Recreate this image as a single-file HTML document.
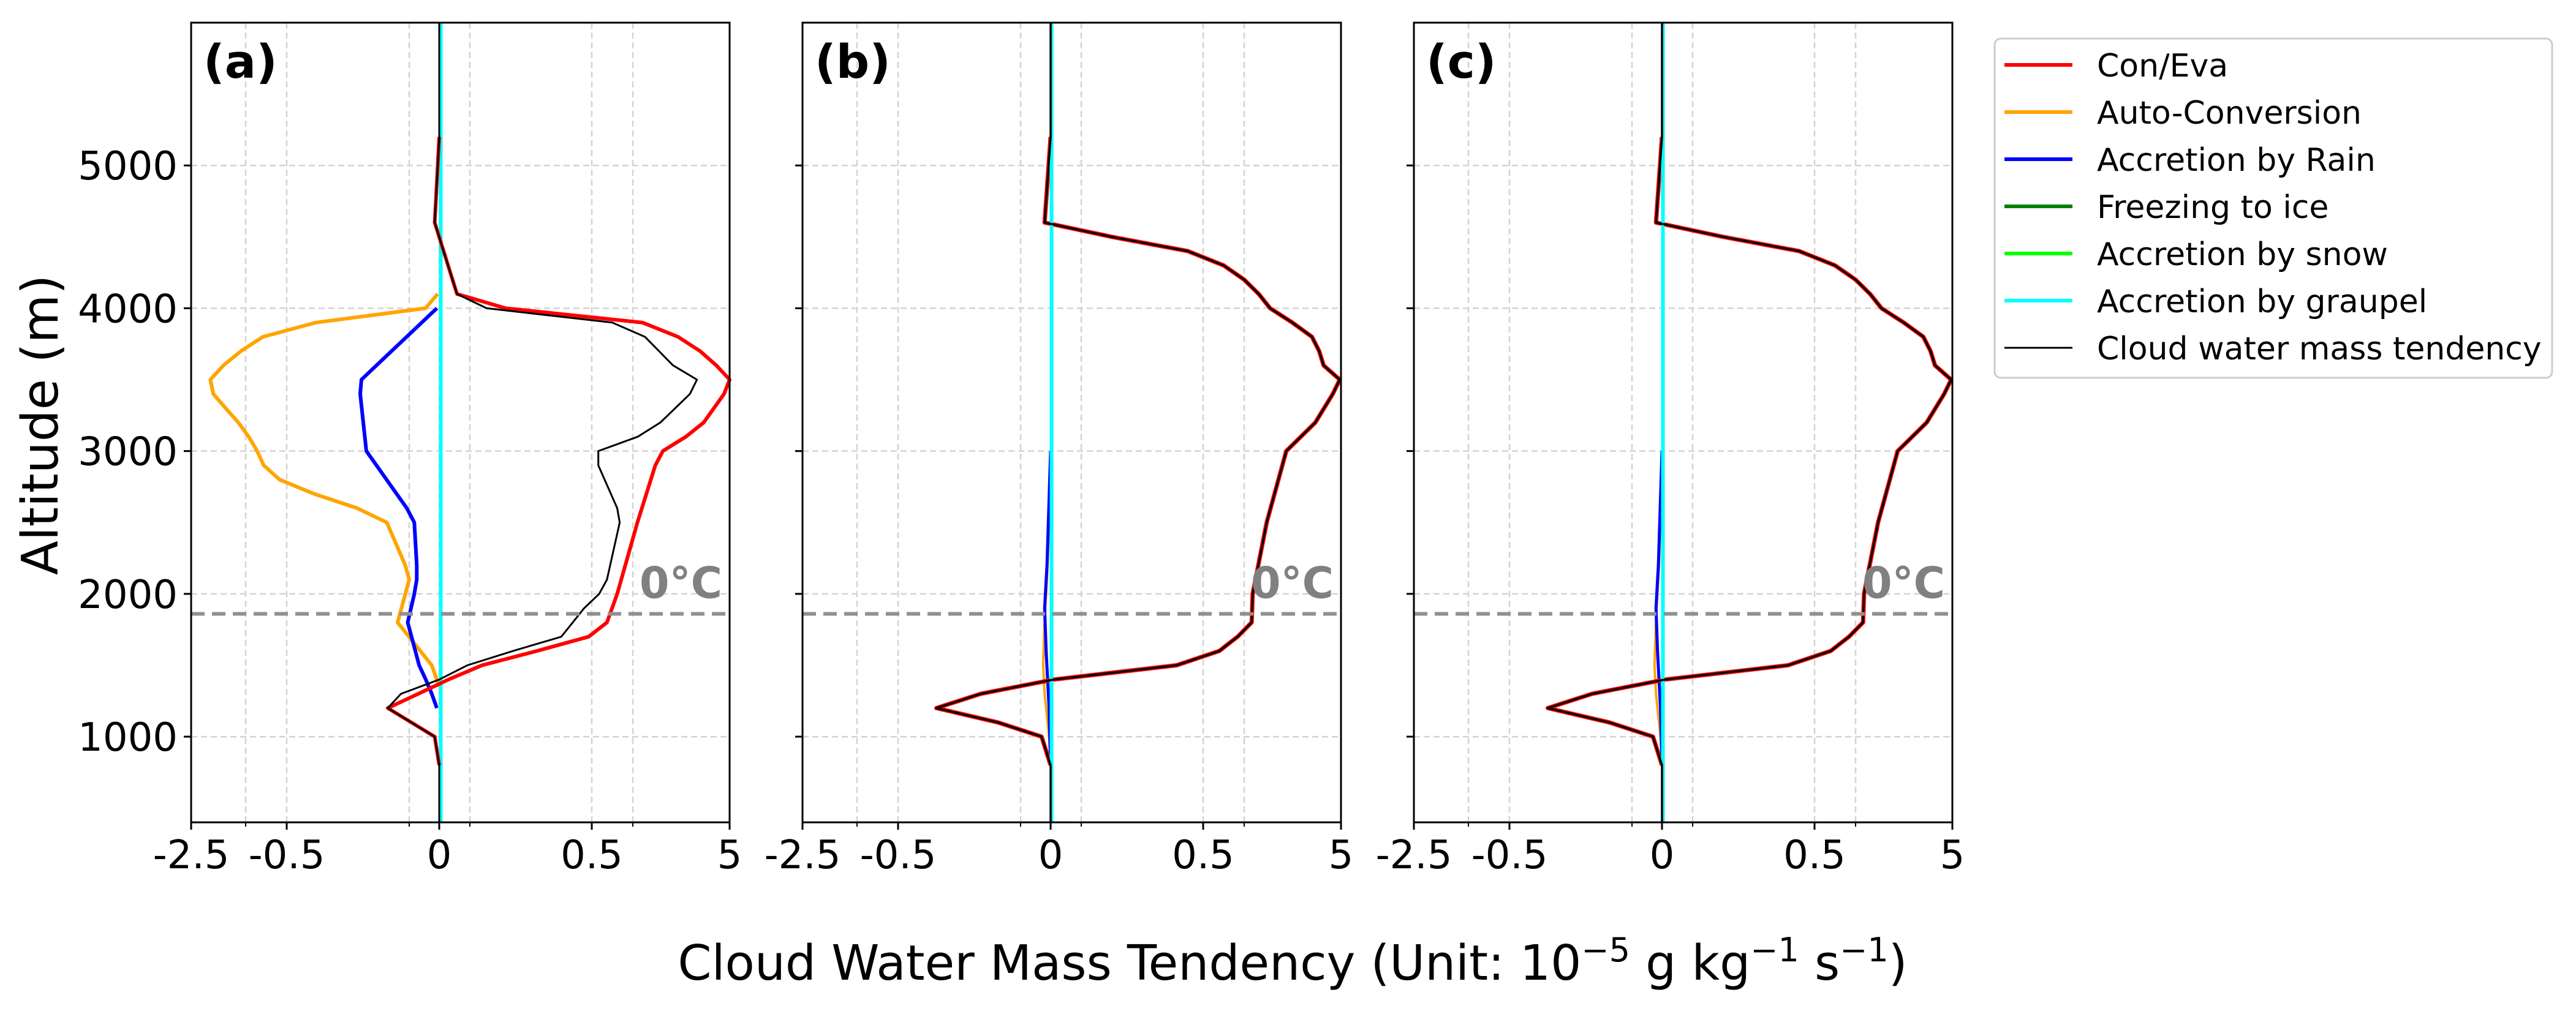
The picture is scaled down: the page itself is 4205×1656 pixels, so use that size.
<!DOCTYPE html>
<html><head><meta charset="utf-8"><style>
html,body{margin:0;padding:0;background:#fff;}
svg{display:block;font-family:"DejaVu Sans","Liberation Sans",sans-serif;}
</style></head><body>
<svg id="chart" width="4205" height="1656" viewBox="0 0 4205 1656" xmlns="http://www.w3.org/2000/svg">
<rect width="4205" height="1656" fill="#fff"/>
<g id="plots"></g>
<text x="0" y="0" transform="translate(94,694) rotate(-90)" text-anchor="middle" font-size="82" fill="#000">Altitude (m)</text>
<text x="2110" y="1600" text-anchor="middle" font-size="79" fill="#000">Cloud Water Mass Tendency (Unit: 10<tspan dy="-30" font-size="54">−5</tspan><tspan dy="30"> g kg</tspan><tspan dy="-30" font-size="54">−1</tspan><tspan dy="30"> s</tspan><tspan dy="-30" font-size="54">−1</tspan><tspan dy="30">)</tspan></text>
<g>
<rect x="3256" y="63" width="910" height="554" rx="10" fill="#fff" stroke="#ccc" stroke-width="3"/>
<g id="legend-items"></g>
</g>
</svg>
<script>
const xTickVals = [-2.5,-0.5,0,0.5,5];
const xTickLabels = ["-2.5","-0.5","0","0.5","5"];
const xMinorVals = [-1,-0.1,0.1,1];
const yTickVals = [1000,2000,3000,4000,5000];
const yTickLabels = ["1000","2000","3000","4000","5000"];
const freezingLevel = 1860;
const panelLabels = ["(a)","(b)","(c)"];

// Panel (a)
const altA_red = [800,1000,1200,1300,1400,1500,1600,1700,1800,2000,2500,2900,3000,3100,3200,3400,3500,3600,3700,3800,3900,4000,4100,4600,5200];
const valA_red = [0,-0.015,-0.17,-0.07,0.03,0.14,0.32,0.49,0.685,0.81,1.19,1.93,2.24,3.19,3.93,4.77,5.0,4.45,3.78,2.87,1.4,0.217,0.058,-0.015,0];
const altA_black = [400,800,1000,1200,1300,1400,1500,1600,1700,1900,2000,2100,2500,2600,2900,3000,3100,3200,3400,3500,3600,3800,3900,4000,4100,4600,5200,6000];
const valA_black = [0,0,-0.015,-0.17,-0.127,0,0.092,0.242,0.4,0.475,0.59,0.685,0.84,0.81,0.58,0.58,1.2,2.14,3.36,3.65,2.66,1.5,0.75,0.155,0.058,-0.015,0,0];
const altA_orange = [1350,1500,1800,2100,2200,2500,2600,2700,2800,2900,3000,3100,3200,3300,3400,3500,3600,3700,3800,3900,4000,4100];
const valA_orange = [0,-0.025,-0.138,-0.1,-0.113,-0.173,-0.27,-0.41,-0.586,-0.78,-0.86,-0.963,-1.2,-1.55,-1.89,-1.97,-1.61,-1.13,-0.79,-0.405,-0.046,-0.005];
const altA_blue = [1200,1300,1400,1500,1800,2000,2100,2200,2500,2600,3000,3400,3500,4000];
const valA_blue = [-0.008,-0.025,-0.045,-0.067,-0.105,-0.083,-0.075,-0.075,-0.083,-0.108,-0.24,-0.26,-0.256,-0.008];
const altA_cyan = [400,6000];
const valA_cyan = [0.005,0.005];

// Panels (b) and (c)
const altB_red = [800,1000,1100,1200,1300,1400,1500,1600,1700,1800,2000,2500,3000,3200,3400,3500,3600,3700,3800,3900,4000,4100,4200,4300,4400,4500,4600,5200];
const valB_red = [0,-0.03,-0.174,-0.375,-0.23,0.01,0.413,0.697,0.92,1.31,1.35,1.93,2.74,3.94,4.66,4.95,4.28,4.1,3.8,2.99,2.07,1.6,1.0,0.75,0.45,0.2,-0.02,0];
const altB_black = [400,800,1000,1100,1200,1300,1400,1500,1600,1700,1800,2000,2500,3000,3200,3400,3500,3600,3700,3800,3900,4000,4100,4200,4300,4400,4500,4600,5200,6000];
const valB_black = [0,0,-0.03,-0.174,-0.375,-0.23,0.01,0.413,0.697,0.92,1.31,1.35,1.93,2.74,3.94,4.66,4.95,4.28,4.1,3.8,2.99,2.07,1.6,1.0,0.75,0.45,0.2,-0.02,0,0];
const altB_orange = [800,1000,1300,1500,1800,2200,2800];
const valB_orange = [0,-0.005,-0.02,-0.025,-0.02,-0.01,0];
const altB_blue = [800,1200,1400,1600,1900,2200,3000];
const valB_blue = [0,-0.005,-0.01,-0.015,-0.02,-0.012,0];
const altB_cyan = [400,6000];
const valB_cyan = [0.003,0.003];

const legendLabels = ["Con/Eva","Auto-Conversion","Accretion by Rain","Freezing to ice","Accretion by snow","Accretion by graupel","Cloud water mass tendency"];
const legendColors = ["#ff0000","#ffa500","#0000ff","#008000","#00ff00","#00ffff","#000000"];

const NS="http://www.w3.org/2000/svg";
const panelLefts=[312,1310,2308], PW=879, PT=37, PB=1343;
const yMin=400,yMax=6000;
const bkV=[-2.5,-1,-0.5,-0.1,0,0.1,0.5,1,5];
const bkF=[0,89/879,156/879,356/879,405/879,455/879,654/879,721/879,1];
function xs(v,left){
  for(let i=0;i<bkV.length-1;i++){
    if(v<=bkV[i+1]||i===bkV.length-2){
      const t=(v-bkV[i])/(bkV[i+1]-bkV[i]);
      return left+PW*(bkF[i]+t*(bkF[i+1]-bkF[i]));
    }
  }
}
function ys(a){return PB-(a-yMin)/(yMax-yMin)*(PB-PT);}
function mk(tag,attrs,parent){const e=document.createElementNS(NS,tag);for(const k in attrs)e.setAttribute(k,attrs[k]);parent.appendChild(e);return e;}
const plots=document.getElementById('plots');

const panelSeries=[
 [[altA_orange,valA_orange,"#ffa500",6,"auto-conversion-line"],[altA_blue,valA_blue,"#0000ff",6,"accretion-rain-line"],[altA_cyan,valA_cyan,"#00ffff",6,"accretion-graupel-line"],[altA_red,valA_red,"#ff0000",6,"con-eva-line"],[altA_black,valA_black,"#000000",3,"tendency-line"]],
 [[altB_orange,valB_orange,"#ffa500",4,"auto-conversion-line"],[altB_blue,valB_blue,"#0000ff",5,"accretion-rain-line"],[altB_red,valB_red,"#ff0000",7,"con-eva-line"],[altB_cyan,valB_cyan,"#00ffff",6,"accretion-graupel-line"],[altB_black,valB_black,"#000000",3.5,"tendency-line"]],
 [[altB_orange,valB_orange,"#ffa500",4,"auto-conversion-line"],[altB_blue,valB_blue,"#0000ff",5,"accretion-rain-line"],[altB_red,valB_red,"#ff0000",7,"con-eva-line"],[altB_cyan,valB_cyan,"#00ffff",6,"accretion-graupel-line"],[altB_black,valB_black,"#000000",3.5,"tendency-line"]]
];

panelLefts.forEach((L,pi)=>{
  const g=mk('g',{},plots);
  
  
  xTickVals.concat(xMinorVals).forEach(v=>{
    const x=xs(v,L);
    const l=mk('line',{x1:x,x2:x,y1:PT,y2:PB,stroke:'#d3d3d3','stroke-width':2.5,'stroke-dasharray':'10,6'},g);
    
    
  });
  yTickVals.forEach(a=>{
    const y=ys(a);
    const l=mk('line',{x1:L,x2:L+PW,y1:y,y2:y,stroke:'#d3d3d3','stroke-width':2.5,'stroke-dasharray':'10,6'},g);
    
    
  });
  panelSeries[pi].forEach(s=>{
    const pts=s[0].map((a,i)=>xs(s[1][i],L).toFixed(1)+','+ys(a).toFixed(1)).join(' ');
    const p=mk('polyline',{points:pts,fill:'none',stroke:s[2],'stroke-width':s[3],'stroke-linejoin':'round'},g);
    
    
  });
  const fy=ys(freezingLevel);
  const fl=mk('line',{x1:L,x2:L+PW,y1:fy,y2:fy,stroke:'#909090','stroke-width':6,'stroke-dasharray':'22,12'},g);
  
  
  const ft=mk('text',{x:L+PW-12,y:fy-26,'text-anchor':'end','font-size':70,'font-weight':'bold',fill:'#808080'},g);
  ft.textContent='0°C';
  
  
  const fr=mk('rect',{x:L,y:PT,width:PW,height:PB-PT,fill:'none',stroke:'#000','stroke-width':3},g);
  
  
  xTickVals.forEach((v,i)=>{
    const x=xs(v,L);
    mk('line',{x1:x,x2:x,y1:PB,y2:PB+12,stroke:'#000','stroke-width':3},g);
    const t=mk('text',{x:x,y:1418,'text-anchor':'middle','font-size':64,fill:'#000'},g);
    t.textContent=xTickLabels[i];
    
    
  });
  xMinorVals.forEach(v=>{const x=xs(v,L);mk('line',{x1:x,x2:x,y1:PB,y2:PB+7,stroke:'#000','stroke-width':2},g);});
  yTickVals.forEach((a,i)=>{
    const y=ys(a);
    mk('line',{x1:L-12,x2:L,y1:y,y2:y,stroke:'#000','stroke-width':3},g);
    if(pi===0){
      const t=mk('text',{x:L-22,y:y+23,'text-anchor':'end','font-size':64,fill:'#000'},g);
      t.textContent=yTickLabels[i];
      
      
    }
  });
  const pl=mk('text',{x:L+20,y:127,'font-size':76,'font-weight':'bold',fill:'#000'},g);
  pl.textContent=panelLabels[pi];
  
  
});

const lg=document.getElementById('legend-items');
legendLabels.forEach((lab,i)=>{
  const y=106+i*77;
  const g=mk('g',{},lg);
  
  
  mk('line',{x1:3272,x2:3383,y1:y,y2:y,stroke:legendColors[i],'stroke-width':i===6?3:6},g);
  const t=mk('text',{x:3423,y:y+19,'font-size':52,fill:'#000'},g);
  t.textContent=lab;
});
</script>
</body></html>
